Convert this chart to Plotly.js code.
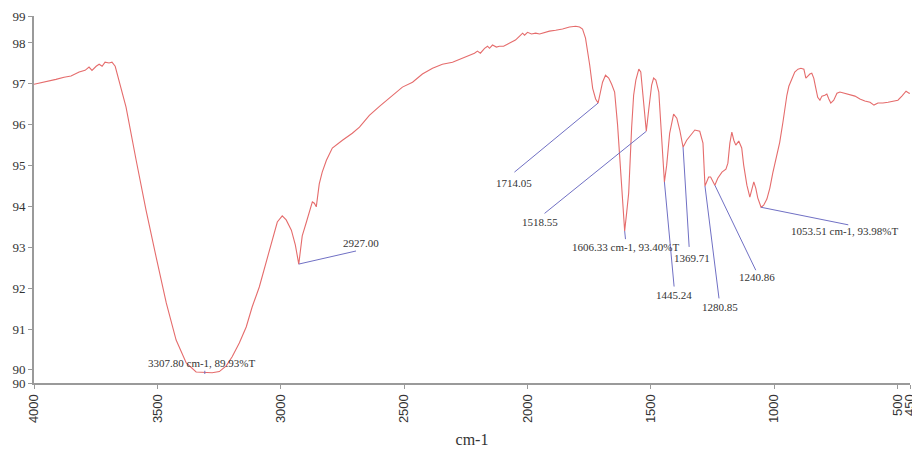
<!DOCTYPE html>
<html>
<head>
<meta charset="utf-8">
<script src="https://cdn.plot.ly/plotly-3.0.1.min.js"></script>
<style>html,body{margin:0;padding:0;background:#fff;}#chart{width:912px;height:450px;}</style>
</head>
<body>
<div id="chart"></div>
<script>
// Spectrum data (wavenumber in cm-1, transmittance in %T)
const wavenumber = [4000,3959,3911,3878,3850,3817,3793,3777,3765,3748,
3736,3724,3712,3696,3684,3671,3655,3627,3586,3546,
3505,3464,3424,3383,3343,3307.8,3278,3249,3221,3197,
3168,3140,3116,3087,3059,3034,3014,2994,2978,2957,
2941,2927,2913,2896,2884,2872,2864,2856,2844,2832,
2815,2791,2750,2710,2681,2641,2600,2548,2507,2466,
2426,2385,2345,2304,2276,2255,2235,2215,2203,2191,
2174,2162,2154,2142,2126,2114,2097,2081,2065,2049,
2032,2020,2012,2000,1984,1967,1951,1931,1911,1886,
1858,1830,1805,1789,1777,1765,1757,1748,1736,1724,
1714.05,1704,1696,1684,1671,1659,1647,1635,1627,1619,
1611,1606.33,1598,1590,1578,1570,1561,1549,1541,1529,
1518.55,1509,1497,1489,1480,1468,1456,1448,1445.24,1436,
1424,1408,1395,1383,1369.71,1355,1342,1322,1302,1289,
1280.85,1266,1258,1250,1240.86,1229,1212,1196,1188,1180,
1172,1164,1156,1144,1132,1124,1111,1099,1091,1083,
1075,1067,1053.51,1043,1030,1018,1006,990,978,965,
957,949,941,929,917,904,892,880,872,864,
856,848,840,832,824,815,807,795,787,779,
771,759,746,734,714,694,673,653,633,612,
596,580,560,539,519,499,483,466,454,450];

const transmittance = [96.99,97.04,97.11,97.16,97.19,97.29,97.33,97.41,97.33,97.43,
97.48,97.43,97.53,97.51,97.53,97.43,97.09,96.43,95.13,93.91,
92.76,91.64,90.73,90.17,89.95,89.93,89.93,89.96,90.10,90.32,
90.66,91.05,91.54,92.03,92.64,93.25,93.62,93.77,93.67,93.42,
93.06,92.59,93.28,93.62,93.86,94.11,94.08,93.99,94.55,94.84,
95.13,95.43,95.62,95.79,95.94,96.23,96.45,96.72,96.92,97.04,
97.24,97.38,97.48,97.53,97.60,97.65,97.70,97.75,97.80,97.75,
97.87,97.92,97.87,97.95,97.90,97.92,97.92,97.97,98.02,98.07,
98.17,98.24,98.19,98.26,98.22,98.24,98.22,98.26,98.29,98.31,
98.34,98.39,98.41,98.39,98.34,98.12,97.82,97.46,96.89,96.63,
96.53,96.85,97.04,97.21,97.14,96.99,96.80,95.99,95.26,94.40,
93.62,93.40,93.86,94.33,95.94,96.72,97.09,97.36,97.29,96.60,
95.84,96.36,96.97,97.14,97.09,96.80,95.62,94.89,94.60,95.01,
95.79,96.26,96.16,95.87,95.45,95.62,95.72,95.87,95.84,95.55,
94.50,94.72,94.72,94.62,94.52,94.69,94.84,94.91,95.06,95.55,
95.82,95.62,95.50,95.60,95.43,95.01,94.52,94.23,94.40,94.60,
94.45,94.21,93.98,94.03,94.18,94.45,94.82,95.26,95.57,96.06,
96.41,96.72,96.94,97.14,97.29,97.36,97.38,97.36,97.14,97.19,
97.24,97.26,97.14,96.90,96.67,96.60,96.70,96.72,96.75,96.63,
96.53,96.60,96.77,96.80,96.77,96.75,96.70,96.63,96.58,96.55,
96.48,96.53,96.53,96.55,96.58,96.60,96.70,96.82,96.77,96.77];

// Peak labels
const peakWn = [3307.8, 2927.00, 1714.05, 1518.55, 1606.33, 1445.24, 1369.71, 1280.85, 1240.86, 1053.51];
const peakT  = [89.90, 92.59, 96.53, 95.84, 93.40, 94.60, 95.45, 94.50, 94.52, 93.98];
const leaderWn = [3307.8, 2695, 2053, 1931, 1603, 1406, 1345, 1224, 1075, 700];
const leaderT  = [89.98, 92.91, 94.84, 93.83, 93.20, 92.04, 93.01, 91.75, 92.44, 93.55];
const labelWn = [3320, 2675, 2053, 1951, 1600, 1406, 1333, 1221, 1072, 714];
const labelT  = [90.17, 93.11, 94.57, 93.62, 93.02, 91.83, 92.74, 91.54, 92.27, 93.40];
const peakLabels = ["3307.80 cm-1, 89.93%T", "2927.00", "1714.05", "1518.55",
  "1606.33 cm-1, 93.40%T", "1445.24", "1369.71", "1280.85", "1240.86", "1053.51 cm-1, 93.98%T"];

// Axis ticks
const xTickVals = [4000, 3500, 3000, 2500, 2000, 1500, 1000, 500, 450];
const xTickText = ["4000", "3500", "3000", "2500", "2000", "1500", "1000", "500", "450"];
const yTickVals = [89.68, 90, 91, 92, 93, 94, 95, 96, 97, 98, 98.66];
const yTickText = ["90", "90", "91", "92", "93", "94", "95", "96", "97", "98", "99"];

const shapes = peakWn.map((w, i) => ({
  type: 'line', xref: 'x', yref: 'y',
  x0: w, y0: peakT[i], x1: leaderWn[i], y1: leaderT[i],
  line: {color: 'rgb(112,112,196)', width: 1}
}));

const annotations = peakLabels.map((t, i) => ({
  x: labelWn[i], y: labelT[i], xref: 'x', yref: 'y',
  text: t, showarrow: false,
  font: {family: 'Liberation Serif, Times New Roman, serif', size: 11, color: '#333'}
}));

const trace = {
  x: wavenumber, y: transmittance, type: 'scatter', mode: 'lines',
  line: {color: 'rgb(229,108,108)', width: 1.1}, hoverinfo: 'skip'
};

const layout = {
  width: 912, height: 450,
  margin: {l: 34, r: 2, t: 16, b: 67},
  paper_bgcolor: '#fff', plot_bgcolor: '#fff',
  showlegend: false,
  xaxis: {
    range: [4000, 450], showgrid: false, zeroline: false,
    showline: true, linecolor: '#9a9a9a', linewidth: 2,
    ticks: 'outside', ticklen: 4, tickcolor: '#9a9a9a', tickwidth: 1,
    tickmode: 'array', tickvals: xTickVals, ticktext: xTickText,
    tickangle: -90, ticklabeloverflow: 'allow',
    tickfont: {family: 'Liberation Sans, Arial, sans-serif', size: 13, color: '#333'},
    title: {text: 'cm-1', standoff: 12, font: {family: 'Liberation Serif, Times New Roman, serif', size: 16, color: '#333'}}
  },
  yaxis: {
    range: [89.68, 98.66], showgrid: false, zeroline: false,
    showline: true, linecolor: '#9a9a9a', linewidth: 2,
    ticks: 'outside', ticklen: 4, tickcolor: '#9a9a9a', tickwidth: 1,
    tickmode: 'array', tickvals: yTickVals, ticktext: yTickText,
    ticklabeloverflow: 'allow',
    tickfont: {family: 'Liberation Serif, Times New Roman, serif', size: 13, color: '#333'}
  },
  shapes: shapes,
  annotations: annotations
};

Plotly.newPlot('chart', [trace], layout, {staticPlot: true, displayModeBar: false});
</script>
</body>
</html>
